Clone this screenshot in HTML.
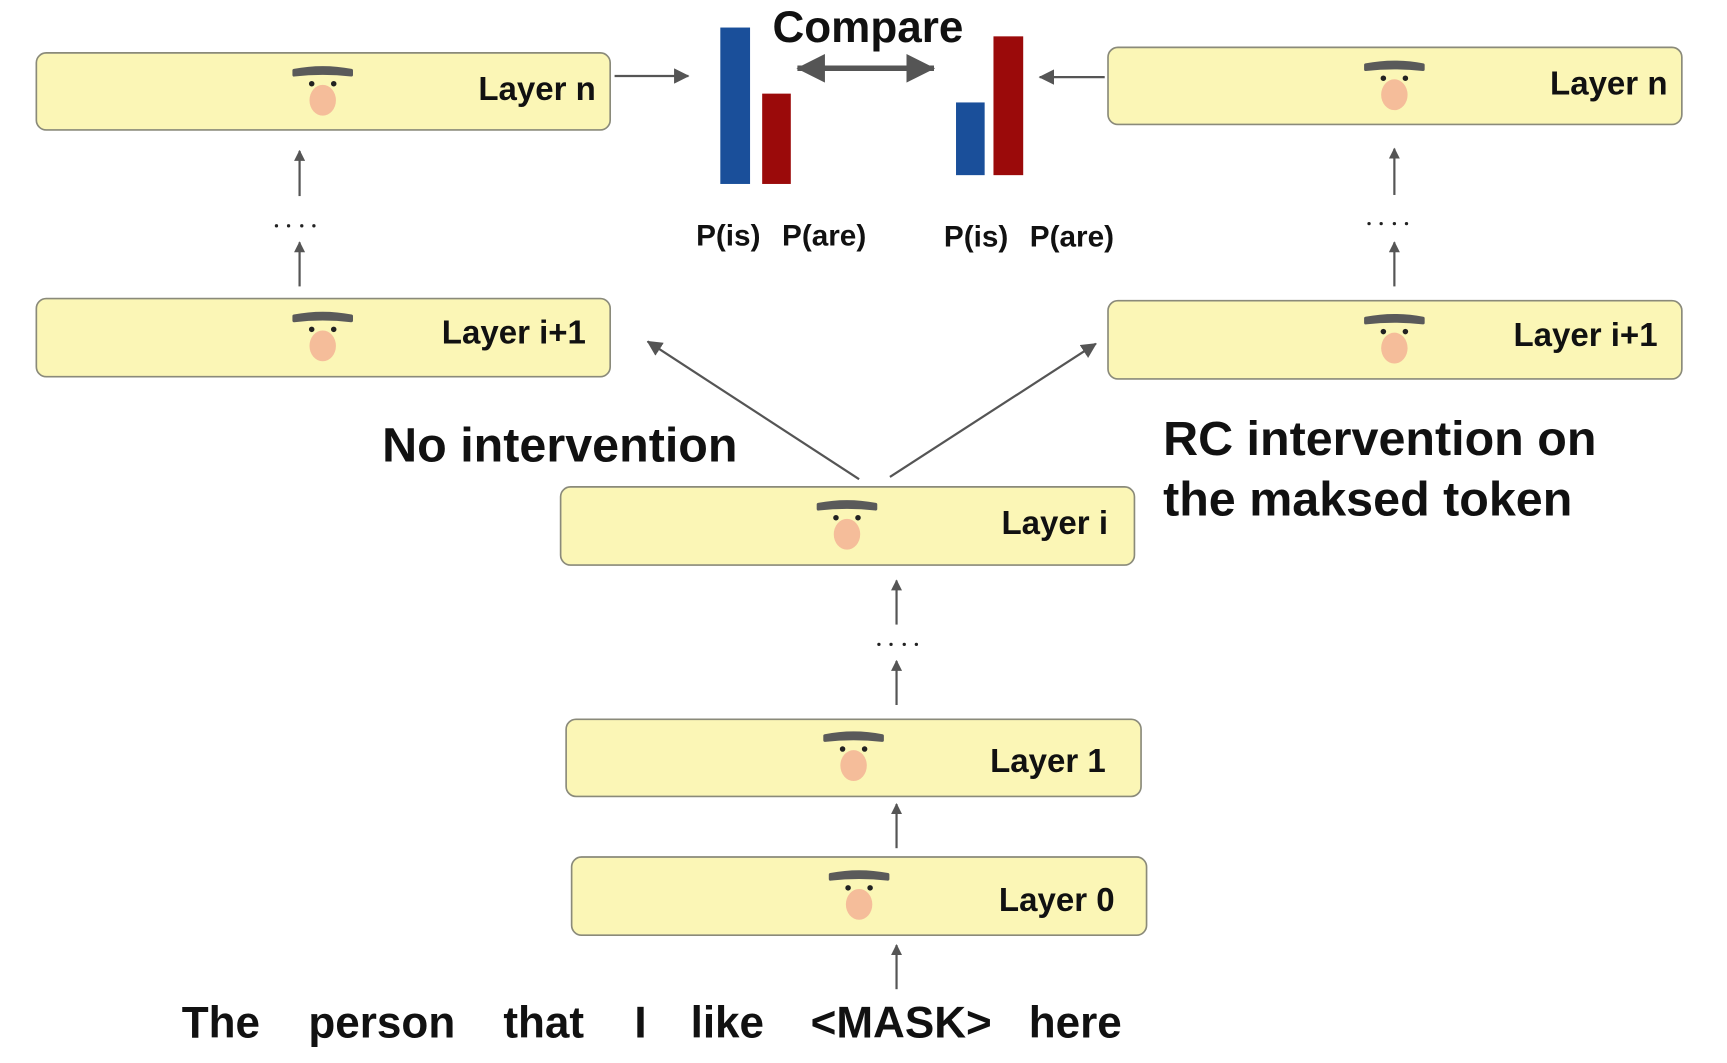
<!DOCTYPE html>
<html><head><meta charset="utf-8"><style>
html,body{margin:0;padding:0;background:#fff;overflow:hidden}
svg{display:block}
text{font-family:"Liberation Sans",sans-serif;font-weight:bold;fill:#111}
</style></head><body>
<svg width="1727" height="1063" viewBox="0 0 1568 965" preserveAspectRatio="none" xmlns="http://www.w3.org/2000/svg">
<defs>
<marker id="ah" markerWidth="10" markerHeight="10" refX="9" refY="5" orient="auto" markerUnits="userSpaceOnUse">
<path d="M0,0 L10,5 L0,10 z" fill="#555"/></marker>
<marker id="ah2" markerWidth="14" markerHeight="14" refX="13" refY="7" orient="auto" markerUnits="userSpaceOnUse">
<path d="M0,0 L14,7 L0,14 z" fill="#555"/></marker>
<marker id="ah3" markerWidth="26" markerHeight="26" refX="25" refY="13" orient="auto-start-reverse" markerUnits="userSpaceOnUse">
<path d="M0,0 L26,13 L0,26 z" fill="#555"/></marker>
<g id="face">
<path d="M-26,3 Q0,-2 26,3 L26,7 Q0,4 -26,7 z" fill="#5a5a5a" stroke="#5a5a5a" stroke-width="3" stroke-linejoin="round"/>
<circle cx="-10" cy="15" r="2.5" fill="#222"/><circle cx="10" cy="15" r="2.5" fill="#222"/>
<ellipse cx="0" cy="30" rx="12" ry="14" fill="#f5bd9a"/>
</g>
</defs>
<g fill="#fbf6b6" stroke="#8a8a7a" stroke-width="1.5">
<rect x="33" y="48" width="521" height="70" rx="9"/>
<rect x="33" y="271" width="521" height="71" rx="9"/>
<rect x="1006" y="43" width="521" height="70" rx="9"/>
<rect x="1006" y="273" width="521" height="71" rx="9"/>
<rect x="509" y="442" width="521" height="71" rx="9"/>
<rect x="514" y="653" width="522" height="70" rx="9"/>
<rect x="519" y="778" width="522" height="71" rx="9"/>
</g>
<use href="#face" x="293" y="61"/>
<use href="#face" x="293" y="284"/>
<use href="#face" x="1266" y="56"/>
<use href="#face" x="1266" y="286"/>
<use href="#face" x="769" y="455"/>
<use href="#face" x="775" y="665"/>
<use href="#face" x="780" y="791"/>
<g font-size="30" text-anchor="end">
<text x="541" y="91">Layer n</text>
<text x="532" y="312">Layer i+1</text>
<text x="1514" y="86">Layer n</text>
<text x="1505" y="314">Layer i+1</text>
<text x="1006" y="485">Layer i</text>
<text x="1004" y="701">Layer 1</text>
<text x="1012" y="827">Layer 0</text>
</g>
<rect x="654" y="25" width="27" height="142" fill="#1a4f9a"/>
<rect x="692" y="85" width="26" height="82" fill="#9b0a0a"/>
<rect x="868" y="93" width="26" height="66" fill="#1a4f9a"/>
<rect x="902" y="33" width="27" height="126" fill="#9b0a0a"/>
<g font-size="27">
<text x="632" y="223">P(is)</text><text x="710" y="223">P(are)</text>
<text x="857" y="224">P(is)</text><text x="935" y="224">P(are)</text>
</g>
<text x="788" y="38" font-size="40" text-anchor="middle">Compare</text>
<line x1="724" y1="62" x2="848" y2="62" stroke="#555" stroke-width="5" marker-start="url(#ah3)" marker-end="url(#ah3)"/>
<g stroke="#555" stroke-width="2" fill="none">
<line x1="558" y1="69" x2="625" y2="69" marker-end="url(#ah2)"/>
<line x1="1003" y1="70" x2="944" y2="70" marker-end="url(#ah2)"/>
<line x1="272" y1="178" x2="272" y2="137" marker-end="url(#ah)"/>
<line x1="272" y1="260" x2="272" y2="220" marker-end="url(#ah)"/>
<line x1="1266" y1="177" x2="1266" y2="135" marker-end="url(#ah)"/>
<line x1="1266" y1="260" x2="1266" y2="220" marker-end="url(#ah)"/>
<line x1="814" y1="567" x2="814" y2="527" marker-end="url(#ah)"/>
<line x1="814" y1="640" x2="814" y2="600" marker-end="url(#ah)"/>
<line x1="814" y1="770" x2="814" y2="730" marker-end="url(#ah)"/>
<line x1="814" y1="898" x2="814" y2="858" marker-end="url(#ah)"/>
<line x1="780" y1="435" x2="588" y2="310" marker-end="url(#ah2)"/>
<line x1="808" y1="433" x2="995" y2="312" marker-end="url(#ah2)"/>
</g>
<g fill="#222">
<circle cx="251" cy="205" r="1.5"/><circle cx="262" cy="205" r="1.5"/><circle cx="274" cy="205" r="1.5"/><circle cx="285" cy="205" r="1.5"/>
<circle cx="1243" cy="203" r="1.5"/><circle cx="1254" cy="203" r="1.5"/><circle cx="1266" cy="203" r="1.5"/><circle cx="1277" cy="203" r="1.5"/>
<circle cx="798" cy="585" r="1.5"/><circle cx="809" cy="585" r="1.5"/><circle cx="821" cy="585" r="1.5"/><circle cx="832" cy="585" r="1.5"/>
</g>
<g font-size="44">
<text x="347" y="419">No intervention</text>
<text x="1056" y="413">RC intervention on</text>
<text x="1056" y="468">the maksed token</text>
</g>
<g font-size="40">
<text x="165" y="942">The</text><text x="280" y="942">person</text><text x="457" y="942">that</text>
<text x="576" y="942">I</text><text x="627" y="942">like</text><text x="736" y="942">&lt;MASK&gt;</text><text x="934" y="942">here</text>
</g>
</svg>
</body></html>
